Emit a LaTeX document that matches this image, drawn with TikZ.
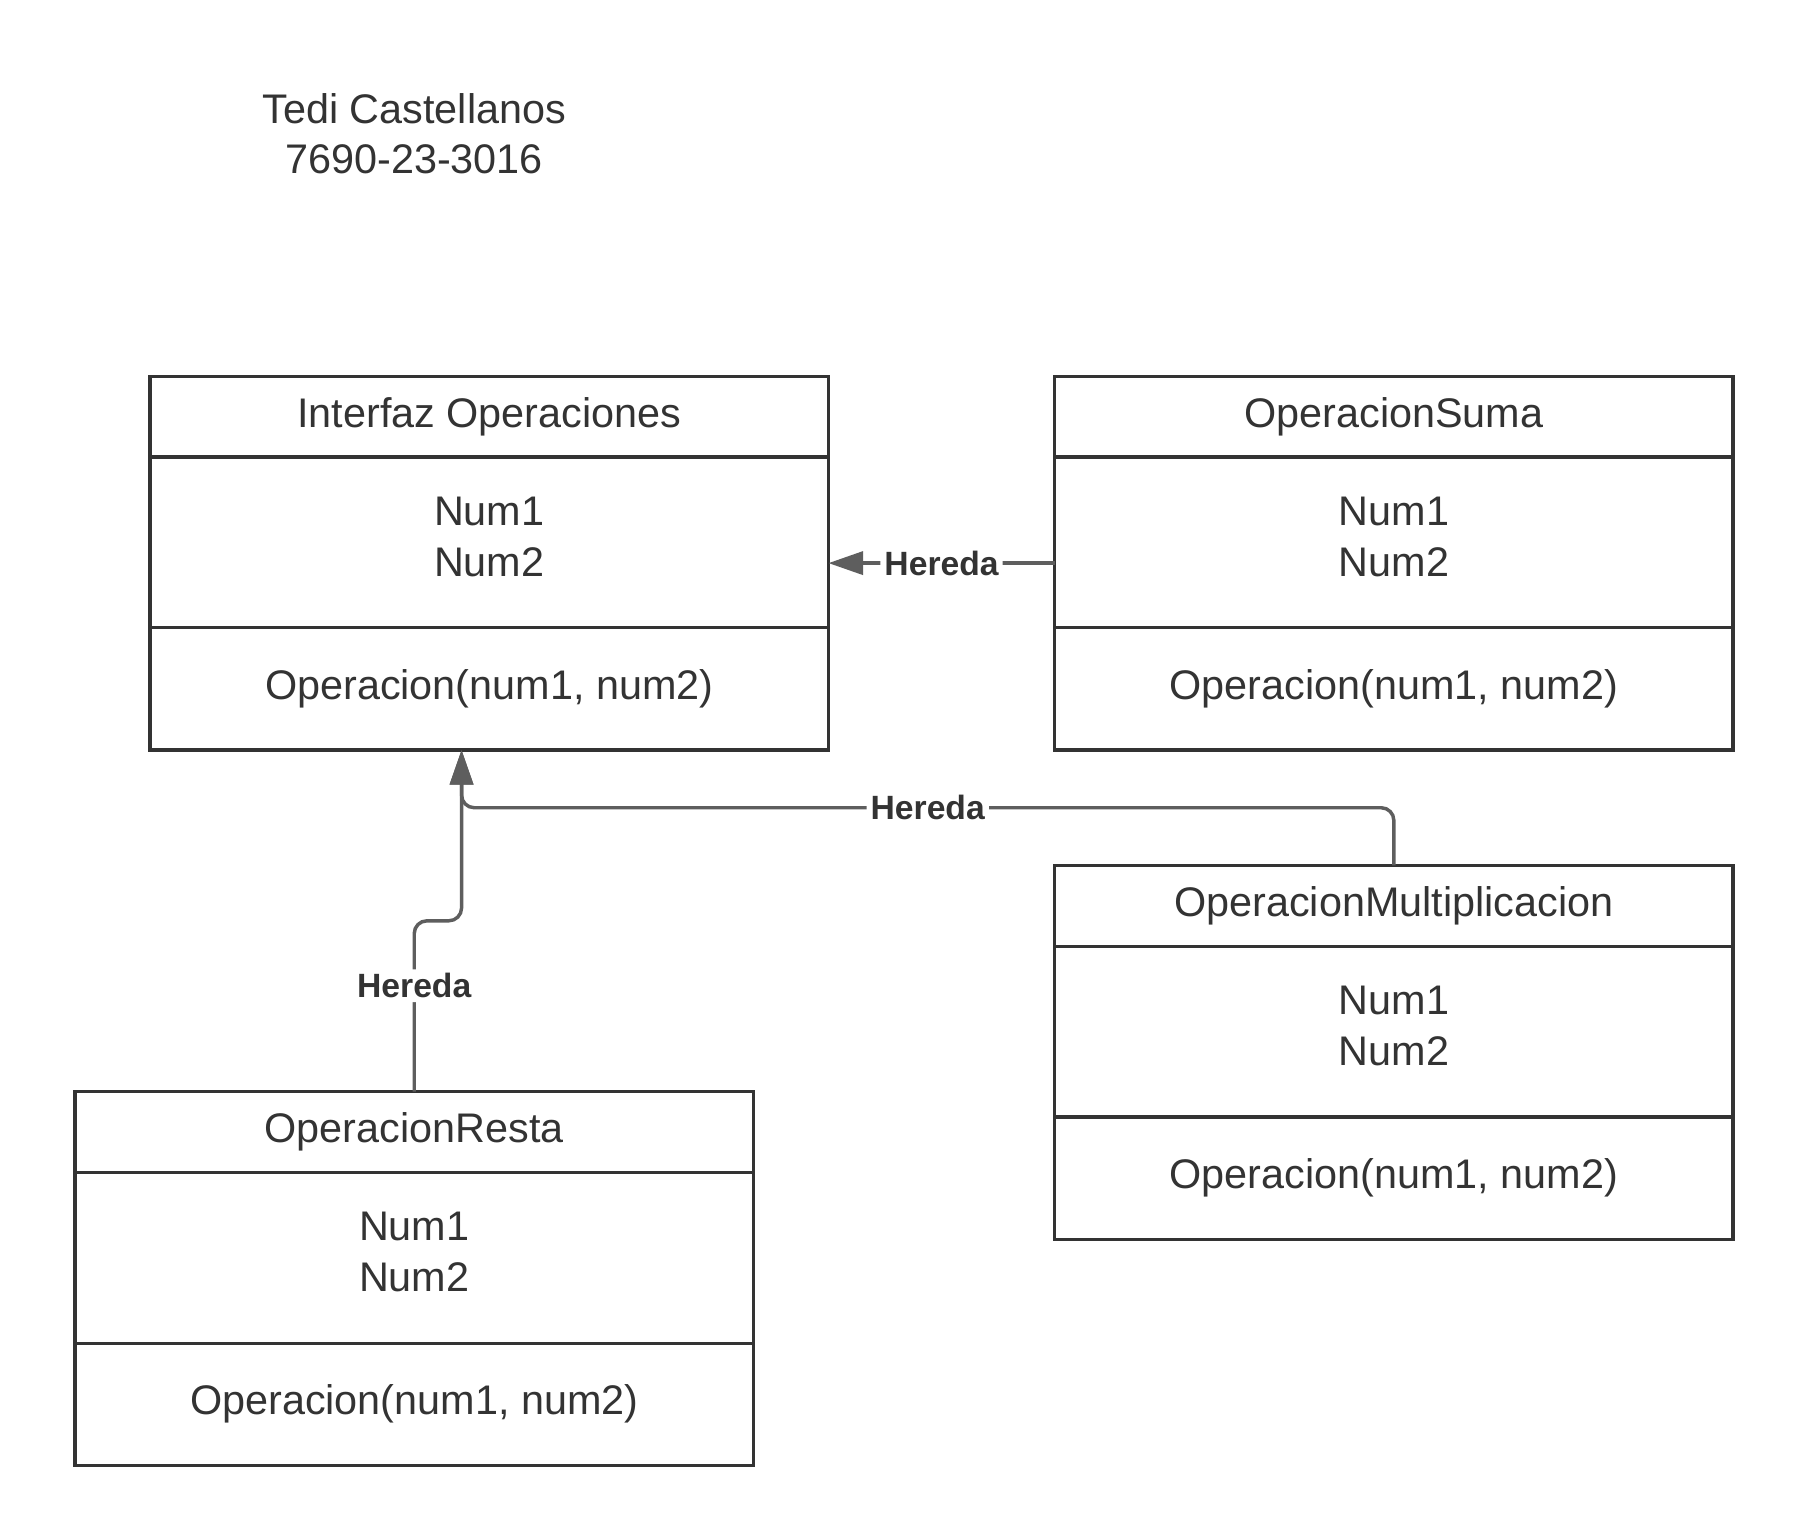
\documentclass[tikz,border=0pt]{standalone}
\usepackage{fontspec}
\setmainfont{Liberation Sans}
\usepackage{xcolor}
\usepackage{tikz}
\usetikzlibrary{positioning,calc,arrows.meta}

\definecolor{trazo}{HTML}{333333}
\definecolor{flecha}{HTML}{5E5E5E}
\newcommand{\textoclase}{\fontsize{10.2}{12.5}\selectfont}

\tikzset{
  parte/.style={draw=trazo, line width=0.8pt, minimum width=5.88cm, align=center,
    inner sep=0pt, outer sep=0pt, text=trazo, font=\textoclase},
  cabecera/.style={parte, minimum height=0.70cm},
  atributos/.style={parte, minimum height=1.48cm, text depth=2.8pt},
  metodos/.style={parte, minimum height=1.06cm},
  herencia/.style={draw=flecha, line width=0.85pt, rounded corners=0.11cm,
    -{Triangle[length=0.3cm,width=0.2cm]}},
  etiqueta/.style={fill=white, text=trazo, inner sep=1pt,
    font=\bfseries\fontsize{8.3}{10}\selectfont}
}

\begin{document}
\begin{tikzpicture}
\fill[white] (0,0) rectangle (15.6,-13.295);
\useasboundingbox (0,0) rectangle (15.6,-13.295);

\node[align=center, text=trazo, font=\fontsize{10.2}{12.3}\selectfont] (autor) at (3.59,-1.155) {Tedi Castellanos\\7690-23-3016};

% Interfaz
\node[cabecera] (ifaz-head) at (4.24,-3.61) {Interfaz Operaciones};
\node[atributos, below=0pt of ifaz-head] (ifaz-attr) {Num1\\Num2};
\node[metodos, below=0pt of ifaz-attr] (ifaz-ops) {Operacion(num1, num2)};

% Suma
\node[cabecera] (suma-head) at (12.08,-3.61) {OperacionSuma};
\node[atributos, below=0pt of suma-head] (suma-attr) {Num1\\Num2};
\node[metodos, below=0pt of suma-attr] (suma-ops) {Operacion(num1, num2)};

% Multiplicacion
\node[cabecera] (mult-head) at (12.08,-7.85) {OperacionMultiplicacion};
\node[atributos, below=0pt of mult-head] (mult-attr) {Num1\\Num2};
\node[metodos, below=0pt of mult-attr] (mult-ops) {Operacion(num1, num2)};

% Resta
\node[cabecera] (resta-head) at (3.59,-9.81) {OperacionResta};
\node[atributos, below=0pt of resta-head] (resta-attr) {Num1\\Num2};
\node[metodos, below=0pt of resta-attr] (resta-ops) {Operacion(num1, num2)};

% herencias
\coordinate (entrada) at ([xshift=-0.24cm]ifaz-ops.south);
\draw[herencia] ([yshift=-0.18cm]suma-attr.west) -- ([yshift=-0.18cm]ifaz-attr.east) node[etiqueta, pos=0.5] (her-suma) {Hereda};
\draw[herencia] (mult-head.north) |- ([yshift=-0.5cm]entrada) node[etiqueta, pos=0.75] (her-mult) {Hereda} -- (entrada);
\draw[herencia] (resta-head.north) -- ++(0,1.48) node[etiqueta, pos=0.62] (her-resta) {Hereda} -| (entrada);
\end{tikzpicture}
\end{document}
